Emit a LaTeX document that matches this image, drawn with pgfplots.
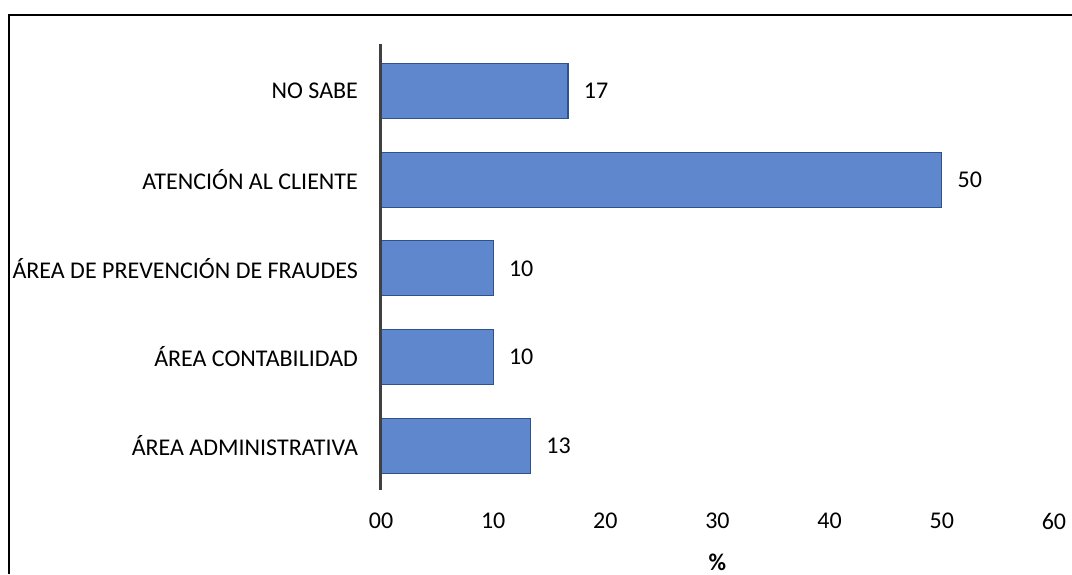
\documentclass[border=0pt]{standalone}
\usepackage{fontspec}
\setmainfont{Carlito}
\usepackage{pgfplots}
\pgfplotsset{compat=1.18}
\definecolor{barfill}{RGB}{95,135,205}
\definecolor{barline}{RGB}{47,82,143}
\definecolor{axgray}{RGB}{64,64,64}
\begin{document}
\begin{tikzpicture}
\useasboundingbox (0,0) rectangle (536pt,287pt);
\draw[line width=1pt] (4.5pt,0) -- (4.5pt,279.5pt) -- (536pt,279.5pt);
\begin{axis}[
  at={(190.5pt,42pt)}, anchor=south west,
  scale only axis, width=336.5pt, height=223pt,
  xbar, bar width=27.5pt,
  xmin=0, xmax=60, ymin=-0.5, ymax=4.53,
  axis line style={draw=none},
  xtick={0,10,20,30,40,50,60},
  xticklabels={00,10,20,30,40,50,60},
  ytick={0,1,2,3,4},
  yticklabels={ÁREA ADMINISTRATIVA,ÁREA CONTABILIDAD,ÁREA DE PREVENCIÓN DE FRAUDES,ATENCIÓN AL CLIENTE,NO SABE},
  major tick length=0pt,
  tick style={draw=none},
  tick label style={font=\fontsize{12}{14}\selectfont},
  xticklabel style={yshift=-8pt},
  yticklabel style={xshift=-8pt},
  /pgf/number format/assume math mode=true,
  xlabel={\textbf{\%}},
  xlabel style={font=\fontsize{12}{14}\selectfont, at={(axis description cs:0.5,0)}, anchor=center, yshift=-36pt},
  nodes near coords={\pgfmathprintnumber[fixed,precision=0]{\pgfplotspointmeta}},
  nodes near coords style={font=\fontsize{12}{14}\selectfont, anchor=west, xshift=4.3pt},
  clip=false,
]
\addplot[fill=barfill, draw=barline, line width=0.6pt] coordinates {
  (13.33,0) (10,1) (10,2) (50,3) (16.67,4)
};
\draw[axgray, line width=1.5pt] (axis cs:0,-0.5) -- (axis cs:0,4.53);
\end{axis}
\end{tikzpicture}
\end{document}
